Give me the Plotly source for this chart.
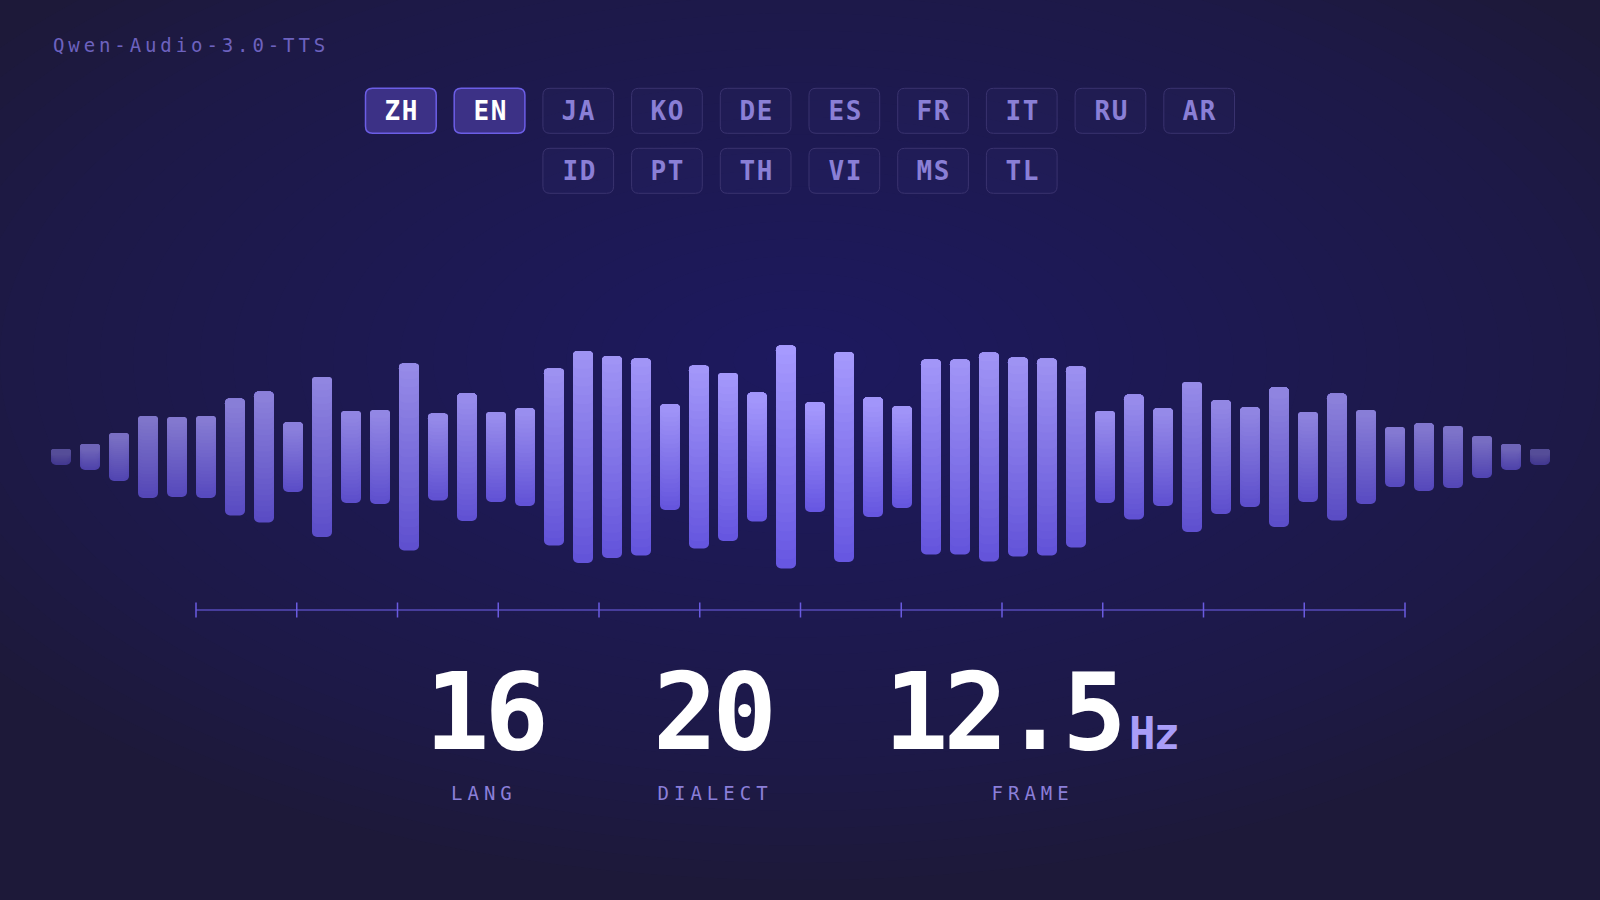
import json
import numpy as np
import plotly.graph_objects as go

# ---------------- data ----------------
model_name = "Qwen-Audio-3.0-TTS"
languages_row1 = ["ZH", "EN", "JA", "KO", "DE", "ES", "FR", "IT", "RU", "AR"]
languages_row2 = ["ID", "PT", "TH", "VI", "MS", "TL"]
active_languages = ["ZH", "EN"]
amplitude = [16, 26, 48, 82, 80, 82, 117, 131, 70, 160,
             92, 94, 187, 87, 128, 90, 98, 177, 212, 202,
             197, 106, 183, 168, 129, 223, 110, 210, 120, 102,
             195, 195, 209, 199, 197, 181, 92, 125, 98, 150,
             114, 100, 140, 90, 127, 94, 60, 68, 62, 42,
             26, 16]
stat_values = ["16", "20", "12.5"]
stat_units = ["", "", "Hz"]
stat_labels = ["LANG", "DIALECT", "FRAME"]
ruler_ticks = 13

# ---------------- layout constants ----------------
W, H = 1600, 900
BG = "#1d1939"
FONT = "DejaVu Sans Mono"
BAR_X0, BAR_PITCH, BAR_W, WAVE_CY, RADIUS = 61, 29, 20, 457, 5


def px(x):
    return x / W


def py(y):
    return 1 - y / H


fig = go.Figure()
shapes = []
annotations = []
spacing = {}

# ---------- background glow (concentric translucent ellipses) ----------
GLOW_N = 30
for k in range(GLOW_N):
    f = 1 - k / GLOW_N
    rx, ry = 1000 * f, 520 * f
    shapes.append(dict(type="circle", xref="paper", yref="paper", layer="below",
                       x0=px(800 - rx), x1=px(800 + rx), y0=py(360 - ry), y1=py(360 + ry),
                       fillcolor="rgb(55,46,113)", opacity=0.045, line=dict(width=0)))

# ---------------- waveform bars ----------------
n = len(amplitude)
idx = np.arange(n)
amp = np.array(amplitude, dtype=float)
mid = (n - 1) / 2
dist = np.abs(idx - mid) / mid
alpha = np.clip(0.47 + 0.53 * (1 - dist) ** 0.35, 0, 1)
top_rgb = np.array([168, 156, 255], dtype=float)
bot_rgb = np.array([102, 86, 226], dtype=float)
bg_rgb = np.array([33, 28, 70], dtype=float)


def band_colors(frac):
    c = bot_rgb + frac * (top_rgb - bot_rgb)
    out = bg_rgb[None, :] + alpha[:, None] * (c[None, :] - bg_rgb[None, :])
    return ["rgb(%d,%d,%d)" % tuple(int(round(v)) for v in row) for row in out]


K = 24
bw = BAR_W / BAR_PITCH
c0 = band_colors(0.5 / K)
mk = lambda cols: dict(color=cols, cornerradius=RADIUS, line=dict(width=0))
fig.add_bar(x=idx.tolist(), y=(amp * 0.75).tolist(), base=(-amp * 0.25).tolist(),
            width=bw, marker=mk(c0), hoverinfo="skip", showlegend=False)
fig.add_bar(x=idx.tolist(), y=(-amp * 0.75).tolist(), base=(amp * 0.25).tolist(),
            width=bw, marker=mk(c0), hoverinfo="skip", showlegend=False)
for j in range(1, K):
    start = -amp / 2 + amp * j / K
    length = amp / 2 - start
    yv = [float(l) if l >= 6 else None for l in length]
    fig.add_bar(x=idx.tolist(), y=yv, base=start.tolist(), width=bw,
                marker=mk(band_colors((j + 0.5) / K)), hoverinfo="skip", showlegend=False)

# ---------------- title ----------------
annotations.append(dict(text=model_name, x=px(52), y=py(45), xref="paper", yref="paper",
                        xanchor="left", yanchor="middle", align="left", showarrow=False, borderpad=0,
                        font=dict(family=FONT, size=19, color="#6d62bf")))
spacing[model_name] = 3.9

# ---------------- language chips ----------------
CHIP_W, CHIP_H, CHIP_GAP, CHIP_R = 70.7, 45, 18, 7
ROW_TOPS = [88.3, 148.3]


def rounded_rect(x0, y0, w, h, r):
    x1, y1 = x0 + w, y0 + h
    pts = [
        ("M", (x0 + r, y0)), ("L", (x1 - r, y0)), ("Q", (x1, y0), (x1, y0 + r)),
        ("L", (x1, y1 - r)), ("Q", (x1, y1), (x1 - r, y1)), ("L", (x0 + r, y1)),
        ("Q", (x0, y1), (x0, y1 - r)), ("L", (x0, y0 + r)), ("Q", (x0, y0), (x0 + r, y0)),
    ]
    s = ""
    for p in pts:
        s += p[0] + " " + " ".join("%.5f,%.5f" % (px(a), py(b)) for a, b in p[1:]) + " "
    return s + "Z"


for row, langs in enumerate([languages_row1, languages_row2]):
    total = len(langs) * CHIP_W + (len(langs) - 1) * CHIP_GAP
    left = W / 2 - total / 2
    top = ROW_TOPS[row]
    for i, lang in enumerate(langs):
        x0 = left + i * (CHIP_W + CHIP_GAP)
        act = lang in active_languages
        shapes.append(dict(type="path", xref="paper", yref="paper",
                           path=rounded_rect(x0, top, CHIP_W, CHIP_H, CHIP_R),
                           fillcolor="#3c3186" if act else "rgba(140,125,240,0.03)",
                           line=dict(color="#6c5ee6" if act else "#3a336f",
                                     width=1.5 if act else 1)))
        annotations.append(dict(text=lang, x=px(x0 + CHIP_W / 2 + 0.75), y=py(top + CHIP_H / 2),
                                xref="paper", yref="paper", xanchor="center", yanchor="middle",
                                showarrow=False, borderpad=0,
                                font=dict(family=FONT, size=26, weight="bold",
                                          color="#ffffff" if act else "#8a7fd6")))
        spacing[lang] = 1.5

# ---------------- ruler ----------------
RULER_X0, RULER_X1, RULER_Y = 196, 1405, 610
shapes.append(dict(type="line", xref="paper", yref="paper", x0=px(RULER_X0), x1=px(RULER_X1),
                   y0=py(RULER_Y), y1=py(RULER_Y), line=dict(color="#473d9c", width=2)))
for tx in np.linspace(RULER_X0, RULER_X1, ruler_ticks):
    shapes.append(dict(type="line", xref="paper", yref="paper", x0=px(tx), x1=px(tx),
                       y0=py(RULER_Y - 7.5), y1=py(RULER_Y + 7.5),
                       line=dict(color="#6a5be0", width=1.5)))

# ---------------- stats ----------------
NUM_CENTERS = [486.5, 715, 1005.5]
LABEL_CENTERS = [481.5, 712.5, 1030]
for i, (val, unit, lab) in enumerate(zip(stat_values, stat_units, stat_labels)):
    annotations.append(dict(text=val, x=px(NUM_CENTERS[i] - 2.5), y=py(712), xref="paper", yref="paper",
                            xanchor="center", yanchor="middle", showarrow=False, borderpad=0,
                            font=dict(family=FONT, size=107, weight="bold", color="#ffffff")))
    spacing[val] = -5
    if unit:
        annotations.append(dict(text=unit, x=px(1153), y=py(733.5), xref="paper", yref="paper",
                                xanchor="center", yanchor="middle", showarrow=False, borderpad=0,
                                font=dict(family=FONT, size=44, weight="bold", color="#a99df8")))
        spacing[unit] = -2
    annotations.append(dict(text=lab, x=px(LABEL_CENTERS[i] + 2.5), y=py(793), xref="paper",
                            yref="paper", xanchor="center", yanchor="middle", showarrow=False,
                            borderpad=0, font=dict(family=FONT, size=19, color="#8b7fd9")))
    spacing[lab] = 5

fig.update_layout(
    width=W, height=H, margin=dict(l=0, r=0, t=0, b=0, pad=0),
    paper_bgcolor=BG, plot_bgcolor="rgba(0,0,0,0)",
    barmode="overlay", showlegend=False,
    xaxis=dict(range=[-BAR_X0 / BAR_PITCH, (W - BAR_X0) / BAR_PITCH], visible=False, fixedrange=True),
    yaxis=dict(range=[-(H - WAVE_CY), WAVE_CY], visible=False, fixedrange=True),
    shapes=shapes, annotations=annotations,
    font=dict(family=FONT),
)

post = """
document.body.style.margin='0';
document.body.style.background='%s';
var gd=document.getElementById('{plot_id}');
var sp=%s;
gd.querySelectorAll('text.annotation-text').forEach(function(t){
  var k=t.textContent;
  if(Object.prototype.hasOwnProperty.call(sp,k)){ t.style.letterSpacing=sp[k]+'px'; }
});
""" % (BG, json.dumps(spacing))

fig.write_html("out.html", config={"displayModeBar": False, "staticPlot": True}, post_script=post)
